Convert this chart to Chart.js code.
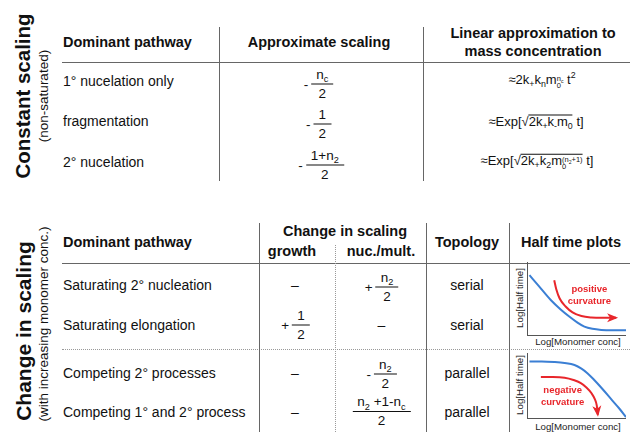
<!DOCTYPE html>
<html lang="en">
<head>
<meta charset="UTF-8">
<title>Scaling of half times</title>
<script src="https://cdn.jsdelivr.net/npm/chart.js"></script>
<style>
body { margin: 0; background: #fff; font-family: "Liberation Sans", Arial, sans-serif; color: #111; }
#page { position: relative; width: 630px; height: 432px; overflow: hidden; }
.t { position: absolute; white-space: nowrap; transform: translate(-50%, -50%); font-size: 14px; line-height: 1; }
.t.l { transform: translate(0, -50%); }
.b { font-weight: bold; font-size: 14.5px; }
.rot { transform: translate(-50%, -50%) rotate(-90deg); }
.hl { position: absolute; height: 0; border-top: 1.5px solid #666; }
.vl { position: absolute; width: 0; border-left: 1.5px solid #666; }
.dh { position: absolute; height: 0; border-top: 1.5px dotted #999; }
.dv { position: absolute; width: 0; border-left: 1.5px dotted #999; }
.fr { display: inline-flex; align-items: center; }
.frac { display: inline-flex; flex-direction: column; align-items: center; font-size: 13.5px; line-height: 14px; }
.frac .n { border-bottom: 1px solid #111; padding: 0 5px 2px; }
.frac .d { padding-top: 2px; }
.sg { font-size: 13.5px; margin-right: 3px; }
sub, sup { font-size: 68%; line-height: 0; }
.ss { display: inline-block; font-size: 7.5px; line-height: 7.5px; vertical-align: -4px; }
.ss span { display: block; }
.sq { display: inline-block; line-height: 11px; border-top: 1px solid #111; }
.f { font-size: 13px; }
.ax { font-size: 9.7px; color: #222; }
.chart { position: absolute; }
</style>
</head>
<body>
<div id="page"></div>
<script>
// top table: constant scaling
const topPathways = ['1\u00b0 nucelation only', 'fragmentation', '2\u00b0 nucelation'];
const topScaling = [['-', 'n<sub>c</sub>', '2'], ['-', '1', '2'], ['-', '1+n<sub>2</sub>', '2']];
const topApprox = [
  '\u22482k<sub>+</sub>k<sub>n</sub>m<span class="ss"><span>n<sub>c</sub></span><span>0</span></span> t<sup>2</sup>',
  '\u2248Exp[\u221a<span class="sq">2k<sub>+</sub>k<sub>-</sub>m<sub>0</sub></span> t]',
  '\u2248Exp[\u221a<span class="sq">2k<sub>+</sub>k<sub>2</sub>m<span class="ss"><span>(n<sub>2</sub>+1)</span><span>0</span></span></span> t]'
];

// bottom table: change in scaling
const bottomPathways = ['Saturating 2\u00b0 nucleation', 'Saturating elongation', 'Competing 2\u00b0 processes', 'Competing 1\u00b0 and 2\u00b0 process'];
const growthChange = ['\u2013', ['+', '1', '2'], '\u2013', '\u2013'];
const nucChange = [['+', 'n<sub>2</sub>', '2'], '\u2013', ['-', 'n<sub>2</sub>', '2'], ['', 'n<sub>2</sub> +1-n<sub>c</sub>', '2']];
const topology = ['serial', 'serial', 'parallel', 'parallel'];

// half time plots (arbitrary log units)
const satBlueX = [0.25, 1.2, 2.4, 3.4, 4.3, 5.1, 5.8, 6.6, 7.5, 8.6, 10];
const satBlueY = [8.2, 6.7, 4.8, 3.5, 2.5, 1.7, 1.15, 0.85, 0.7, 0.65, 0.65];
const satRedX = [2.75, 2.95, 3.3, 3.9, 4.6, 5.5, 6.5, 7.6, 9.0];
const satRedY = [7.5, 6.3, 5.0, 3.9, 3.1, 2.6, 2.4, 2.35, 2.35];
const compBlueX = [0.25, 1.5, 2.8, 3.8, 4.8, 5.5, 6.1, 6.7, 7.6, 8.5, 9.3, 10];
const compBlueY = [8.7, 8.7, 8.6, 8.45, 8.15, 7.6, 6.9, 6.0, 4.5, 2.9, 1.5, 0.15];
const compRedX = [1.4, 2.6, 3.8, 4.7, 5.4, 6.0, 6.5, 6.85, 7.05, 7.15];
const compRedY = [6.3, 6.3, 6.2, 5.85, 5.4, 4.7, 3.85, 2.9, 1.9, 0.5];

const page = document.getElementById('page');

function el(cls, html, x, y) {
  const d = document.createElement('div');
  d.className = cls;
  d.innerHTML = html;
  d.style.left = x + 'px';
  d.style.top = y + 'px';
  page.appendChild(d);
  return d;
}
function line(cls, x, y, len) {
  const d = document.createElement('div');
  d.className = cls;
  d.style.left = x + 'px';
  d.style.top = y + 'px';
  if (cls === 'hl' || cls === 'dh') d.style.width = len + 'px';
  else d.style.height = len + 'px';
  page.appendChild(d);
}
function frac(v) {
  if (typeof v === 'string') return v;
  return '<span class="fr">' + (v[0] ? '<span class="sg">' + v[0] + '</span>' : '') +
    '<span class="frac"><span class="n">' + v[1] + '</span><span class="d">' + v[2] + '</span></span></span>';
}

// ---- top table ----
el('t rot b', 'Constant scaling', 23, 96).style.fontSize = '20.5px';
el('t rot', '(non-saturated)', 44, 96).style.fontSize = '13.5px';
el('t l b', 'Dominant pathway', 63, 42);
el('t b', 'Approximate scaling', 319, 42);
el('t b', 'Linear approximation to', 533, 33);
el('t b', 'mass concentration', 533, 51);
line('hl', 62, 62, 568);
line('vl', 219, 27, 154);
line('vl', 423, 27, 154);
const topRowY = [81, 121, 162];
const topFracX = [318.5, 318.5, 321];
const topApproxX = [542, 536, 537];
topPathways.forEach((p, i) => {
  el('t l', p, 63, topRowY[i]);
  el('t', frac(topScaling[i]), topFracX[i], topRowY[i] + 3);
  el('t f', topApprox[i], topApproxX[i], topRowY[i]);
});

// ---- bottom table ----
el('t rot b', 'Change in scaling', 23, 331).style.fontSize = '21px';
el('t rot', '(with increasing monomer conc.)', 44, 324).style.fontSize = '13.5px';
el('t l b', 'Dominant pathway', 63, 242);
el('t b', 'Change in scaling', 345, 231);
el('t b', 'growth', 292, 251);
el('t b', 'nuc./mult.', 381, 251);
el('t b', 'Topology', 467, 242);
el('t b', 'Half time plots', 571, 242);
line('hl', 62, 263, 568);
line('dh', 62, 349, 568);
line('vl', 259, 223, 209);
line('vl', 426, 223, 209);
line('vl', 509, 223, 209);
line('dv', 335, 245, 187);
const botRowY = [285, 325, 373, 412];
const botFracY = [287, 325, 374, 411];
bottomPathways.forEach((p, i) => {
  el('t l', p, 63, botRowY[i]);
  const g = growthChange[i], n = nucChange[i];
  el('t', frac(g), typeof g === 'string' ? 295 : 295.5, typeof g === 'string' ? botRowY[i] : botFracY[i]);
  el('t', frac(n), 381.5, typeof n === 'string' ? botRowY[i] : botFracY[i]);
  el('t', topology[i], 467, botRowY[i]);
});

// ---- half time charts ----
const curveNotes = {
  id: 'curveNotes',
  afterDatasetsDraw(chart, args, opts) {
    const { ctx, scales: { x, y } } = chart;
    const pts = chart.getDatasetMeta(1).data;
    const tip = pts[pts.length - 1], prev = pts[pts.length - 2];
    const a = Math.atan2(tip.y - prev.y, tip.x - prev.x);
    const c = Math.cos(a), s = Math.sin(a);
    ctx.save();
    ctx.fillStyle = opts.color;
    ctx.beginPath();
    ctx.moveTo(tip.x + 2 * c, tip.y + 2 * s);
    ctx.lineTo(tip.x - 9 * c + 4.5 * s, tip.y - 9 * s - 4.5 * c);
    ctx.lineTo(tip.x - 6 * c, tip.y - 6 * s);
    ctx.lineTo(tip.x - 9 * c - 4.5 * s, tip.y - 9 * s + 4.5 * c);
    ctx.closePath();
    ctx.fill();
    ctx.font = 'bold 9.5px "Liberation Sans", Arial, sans-serif';
    ctx.textAlign = 'center';
    ctx.textBaseline = 'middle';
    opts.labels.forEach(l => ctx.fillText(l.text, x.getPixelForValue(l.x), y.getPixelForValue(l.y)));
    ctx.restore();
  }
};

function halfTimeChart(left, top, w, h, bx, by, rx, ry, labels) {
  const box = document.createElement('div');
  box.className = 'chart';
  box.style.cssText += `left:${left}px;top:${top}px;width:${w}px;height:${h}px;`;
  const cv = document.createElement('canvas');
  box.appendChild(cv);
  page.appendChild(box);
  new Chart(cv, {
    type: 'line',
    data: {
      datasets: [
        { data: bx.map((v, i) => ({ x: v, y: by[i] })), borderColor: '#3b7fd4', borderWidth: 2, pointRadius: 0, cubicInterpolationMode: 'monotone' },
        { data: rx.map((v, i) => ({ x: v, y: ry[i] })), borderColor: '#e8262b', borderWidth: 2, pointRadius: 0, cubicInterpolationMode: 'monotone', borderCapStyle: 'butt' }
      ]
    },
    options: {
      responsive: true, maintainAspectRatio: false, animation: false,
      layout: { padding: { left: 1, bottom: 1, top: 0, right: 0 } },
      plugins: { legend: { display: false }, tooltip: { enabled: false }, curveNotes: { color: '#e8262b', labels } },
      scales: {
        x: { type: 'linear', min: 0, max: 10, grid: { display: false, drawTicks: false }, ticks: { display: false }, border: { color: '#555', width: 1 } },
        y: { min: 0, max: 10, grid: { display: false, drawTicks: false }, ticks: { display: false }, border: { color: '#555', width: 1 } }
      }
    },
    plugins: [curveNotes]
  });
}

halfTimeChart(526, 262, 100, 74, satBlueX, satBlueY, satRedX, satRedY,
  [{ text: 'positive', x: 6.3, y: 6.2 }, { text: 'curvature', x: 6.3, y: 4.6 }]);
halfTimeChart(526, 353, 100, 66, compBlueX, compBlueY, compRedX, compRedY,
  [{ text: 'negative', x: 3.6, y: 4.2 }, { text: 'curvature', x: 3.6, y: 2.4 }]);

// axis titles of the half time plots
el('t ax', 'Log[Monomer conc]', 578, 342);
el('t ax rot', 'Log[Half time]', 520, 298);
el('t ax', 'Log[Monomer conc]', 578, 427);
el('t ax rot', 'Log[Half time]', 520, 385);
</script>
</body>
</html>
